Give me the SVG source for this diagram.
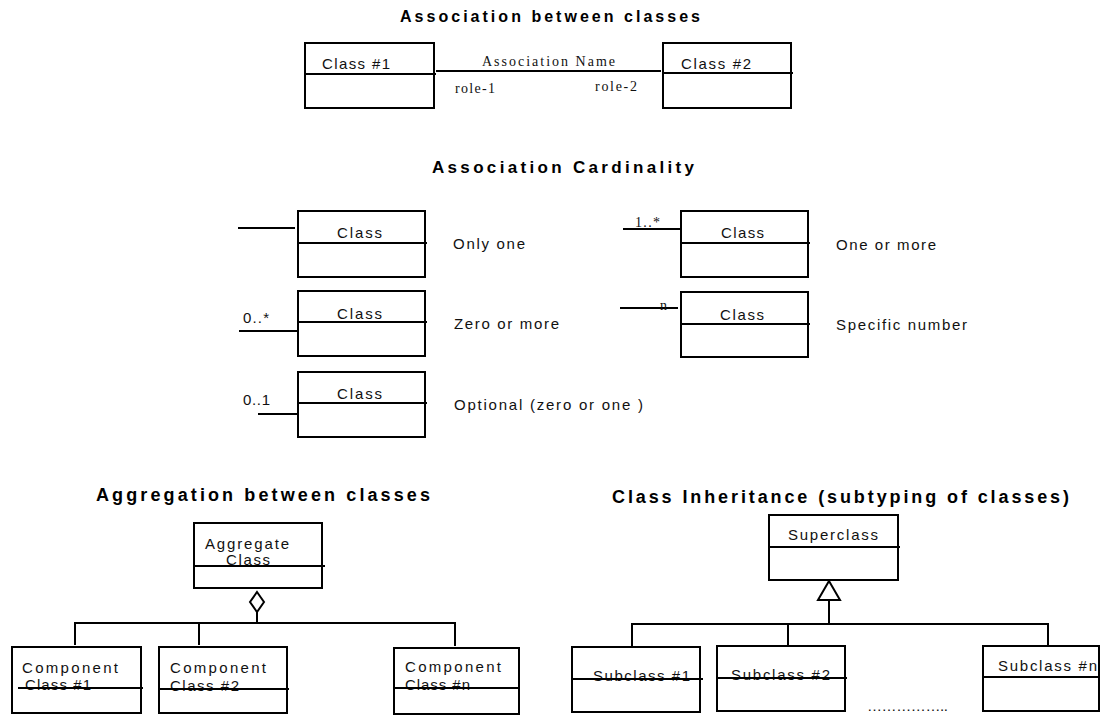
<svg xmlns="http://www.w3.org/2000/svg" width="1102" height="715" viewBox="0 0 1102 715">
<style>
.box{fill:#fff;stroke:#000;stroke-width:2}
.ln{stroke:#000;stroke-width:2;fill:none}
.t{font-family:"Liberation Sans",Arial,sans-serif;font-size:15px;fill:#111}
.s{font-family:"Liberation Serif","Times New Roman",serif;font-size:14px;fill:#111}
.h{font-family:"Liberation Sans",Arial,sans-serif;font-weight:bold;fill:#000}
</style>
<rect width="1102" height="715" fill="#fff"/>
<g id="titles">
<text class="h" x="400" y="22" font-size="16" textLength="300" lengthAdjust="spacing">Association between classes</text>
<text class="h" x="432" y="173" font-size="17" textLength="262" lengthAdjust="spacing">Association Cardinality</text>
<text class="h" x="96" y="501" font-size="18" textLength="334" lengthAdjust="spacing">Aggregation between classes</text>
<text class="h" x="612" y="503" font-size="18" textLength="457" lengthAdjust="spacing">Class Inheritance (subtyping of classes)</text>
</g>
<g id="connectors">
<line class="ln" x1="436" y1="71" x2="661" y2="71"/>
<line class="ln" x1="238" y1="228" x2="295" y2="228"/>
<line class="ln" x1="239" y1="331" x2="298" y2="331"/>
<line class="ln" x1="258" y1="414" x2="298" y2="414"/>
<line class="ln" x1="623" y1="229" x2="680" y2="229"/>
<line class="ln" x1="620" y1="308" x2="678" y2="308"/>
<polyline class="ln" points="257,612 257,623"/>
<polyline class="ln" points="75,645 75,623 455,623 455,646"/>
<line class="ln" x1="199" y1="623" x2="199" y2="645"/>
<polygon class="box" points="257,592 264,602 257,612 250,602"/>
<polyline class="ln" points="829,600 829,624"/>
<polyline class="ln" points="632,646 632,624 1048,624 1048,646"/>
<line class="ln" x1="788" y1="624" x2="788" y2="646"/>
<polygon class="box" points="829,581 840,600 818,600"/>
</g>
<g id="labels">
<text class="s" x="482" y="66" textLength="133" lengthAdjust="spacing">Association Name</text>
<text class="s" x="455" y="93" textLength="40" lengthAdjust="spacing">role-1</text>
<text class="s" x="595" y="91" textLength="42" lengthAdjust="spacing">role-2</text>
<text class="t" x="453" y="249" textLength="72" lengthAdjust="spacing">Only one</text>
<text class="t" x="243" y="323" font-size="14" textLength="26" lengthAdjust="spacing">0..*</text>
<text class="t" x="454" y="329" textLength="105" lengthAdjust="spacing">Zero or more</text>
<text class="t" x="243" y="405" font-size="14" textLength="27" lengthAdjust="spacing">0..1</text>
<text class="t" x="454" y="410" textLength="189" lengthAdjust="spacing">Optional (zero or one )</text>
<text class="s" x="635" y="227" font-size="13" textLength="25" lengthAdjust="spacing">1..*</text>
<text class="t" x="836" y="250" textLength="100" lengthAdjust="spacing">One or more</text>
<text class="s" x="660" y="310" font-size="13">n</text>
<text class="t" x="836" y="330" textLength="131" lengthAdjust="spacing">Specific number</text>
<text class="t" x="867" y="711" font-size="11" textLength="81" lengthAdjust="spacing">……………..</text>
</g>
<g id="class1">
<rect class="box" x="305" y="43" width="129" height="65"/>
<line class="ln" x1="305" y1="74" x2="436" y2="74"/>
<text class="t" x="322" y="69" textLength="68" lengthAdjust="spacing">Class #1</text>
</g>
<g id="class2">
<rect class="box" x="663" y="43" width="128" height="65"/>
<line class="ln" x1="663" y1="73" x2="793" y2="73"/>
<text class="t" x="681" y="69" textLength="70" lengthAdjust="spacing">Class #2</text>
</g>
<g id="card-one">
<rect class="box" x="298" y="211" width="127" height="66"/>
<line class="ln" x1="298" y1="243" x2="427" y2="243"/>
<text class="t" x="337" y="238" textLength="45" lengthAdjust="spacing">Class</text>
</g>
<g id="card-zero-more">
<rect class="box" x="298" y="291" width="127" height="65"/>
<line class="ln" x1="298" y1="322" x2="427" y2="322"/>
<text class="t" x="337" y="319" textLength="45" lengthAdjust="spacing">Class</text>
</g>
<g id="card-optional">
<rect class="box" x="298" y="372" width="127" height="65"/>
<line class="ln" x1="298" y1="403" x2="427" y2="403"/>
<text class="t" x="337" y="399" textLength="45" lengthAdjust="spacing">Class</text>
</g>
<g id="card-one-more">
<rect class="box" x="681" y="211" width="127" height="66"/>
<line class="ln" x1="681" y1="243" x2="810" y2="243"/>
<text class="t" x="721" y="238" textLength="43" lengthAdjust="spacing">Class</text>
</g>
<g id="card-specific">
<rect class="box" x="681" y="292" width="127" height="65"/>
<line class="ln" x1="681" y1="324" x2="810" y2="324"/>
<text class="t" x="720" y="320" textLength="44" lengthAdjust="spacing">Class</text>
</g>
<g id="aggregate">
<rect class="box" x="194" y="523" width="128" height="65"/>
<text class="t" x="205" y="549" textLength="84" lengthAdjust="spacing">Aggregate</text>
<text class="t" x="226" y="565" textLength="44" lengthAdjust="spacing">Class</text>
<line class="ln" x1="194" y1="566" x2="325" y2="566"/>
</g>
<g id="component1">
<rect class="box" x="12" y="647" width="129" height="66"/>
<text class="t" x="22" y="673" textLength="96" lengthAdjust="spacing">Component</text>
<text class="t" x="25" y="690" textLength="66" lengthAdjust="spacing">Class #1</text>
<line class="ln" x1="18" y1="688" x2="143" y2="688"/>
</g>
<g id="component2">
<rect class="box" x="159" y="647" width="128" height="66"/>
<text class="t" x="170" y="673" textLength="96" lengthAdjust="spacing">Component</text>
<text class="t" x="170" y="691" textLength="69" lengthAdjust="spacing">Class #2</text>
<line class="ln" x1="159" y1="689" x2="289" y2="689"/>
</g>
<g id="componentn">
<rect class="box" x="394" y="648" width="125" height="66"/>
<text class="t" x="405" y="672" textLength="96" lengthAdjust="spacing">Component</text>
<text class="t" x="405" y="690" textLength="65" lengthAdjust="spacing">Class #n</text>
<line class="ln" x1="394" y1="688" x2="519" y2="688"/>
</g>
<g id="superclass">
<rect class="box" x="769" y="515" width="129" height="65"/>
<line class="ln" x1="769" y1="547" x2="900" y2="547"/>
<text class="t" x="788" y="540" textLength="90" lengthAdjust="spacing">Superclass</text>
</g>
<g id="subclass1">
<rect class="box" x="572" y="647" width="128" height="65"/>
<text class="t" x="593" y="681" textLength="97" lengthAdjust="spacing">Subclass #1</text>
<line class="ln" x1="572" y1="679" x2="703" y2="679"/>
</g>
<g id="subclass2">
<rect class="box" x="717" y="646" width="128" height="65"/>
<text class="t" x="731" y="680" textLength="99" lengthAdjust="spacing">Subclass #2</text>
<line class="ln" x1="717" y1="678" x2="847" y2="678"/>
</g>
<g id="subclassn">
<rect class="box" x="983" y="646" width="116" height="65"/>
<line class="ln" x1="983" y1="677" x2="1100" y2="677"/>
<text class="t" x="998" y="671" textLength="99" lengthAdjust="spacing">Subclass #n</text>
</g>
</svg>
